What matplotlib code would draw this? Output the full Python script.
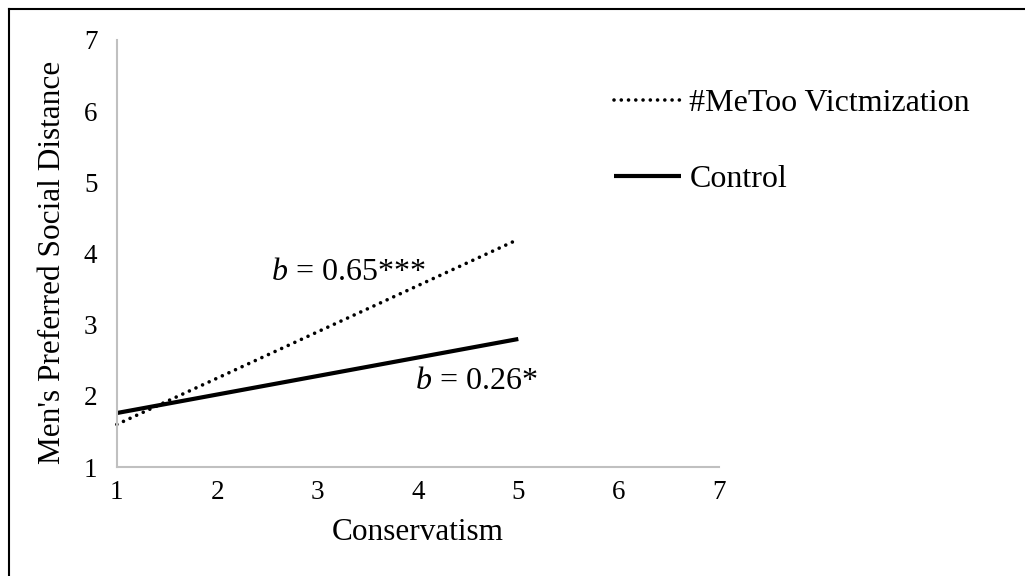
import matplotlib.pyplot as plt
from matplotlib.lines import Line2D

plt.rcParams['font.family'] = 'Liberation Serif'
plt.rcParams['mathtext.fontset'] = 'custom'
plt.rcParams['mathtext.rm'] = 'Liberation Serif'
plt.rcParams['mathtext.it'] = 'Liberation Serif:italic'

# Data
conservatism = [1, 5]
metoo = [1.60, 4.20]
control = [1.76, 2.80]
ticks = [1, 2, 3, 4, 5, 6, 7]

fig = plt.figure(figsize=(10.25, 5.76), dpi=100)
ax = fig.add_axes([0.114, 0.189, 0.5875, 0.7416])

ax.plot(conservatism, metoo, color='black', linewidth=2.6,
        linestyle=(0, (0.01, 2.0)), dash_capstyle='round',
        label='#MeToo Victmization', clip_on=False)
ax.plot(conservatism, control, color='black', linewidth=3,
        solid_capstyle='butt', label='Control', clip_on=False)

ax.set_xlim(1, 7)
ax.set_ylim(1, 7)
ax.set_xticks(ticks)
ax.set_yticks(ticks)
ax.tick_params(length=0, labelsize=19.5)
ax.tick_params(axis='x', pad=9)
ax.tick_params(axis='y', pad=14)

for s in ['top', 'right']:
    ax.spines[s].set_visible(False)
for s in ['left', 'bottom']:
    ax.spines[s].set_color('#c0c0c0')
    ax.spines[s].set_linewidth(1.5)

ax.set_xlabel('Conservatism', fontsize=22.5)
ax.set_ylabel("Men's Preferred Social Distance", fontsize=22.5)
ax.xaxis.set_label_coords(0.5, -0.12)
ax.yaxis.set_label_coords(-0.082, 0.48)

ax.text(2.54, 3.74, r'$b$ = 0.65***', fontsize=23, ha='left', va='center')
ax.text(3.97, 2.2, r'$b$ = 0.26*', fontsize=23, ha='left', va='center')

ax.legend(loc='upper left', bbox_to_anchor=(0.805, 0.915), frameon=False,
          fontsize=23, handlelength=2.1, handletextpad=0.25, labelspacing=1.45,
          borderaxespad=0)

# outer frame (top and left edges only visible)
fig.add_artist(Line2D([0.009, 1.0], [0.984, 0.984], color='black', linewidth=1.5,
                      transform=fig.transFigure))
fig.add_artist(Line2D([0.009, 0.009], [0.0, 0.984], color='black', linewidth=1.5,
                      transform=fig.transFigure))

fig.savefig('out.png', dpi=100)
